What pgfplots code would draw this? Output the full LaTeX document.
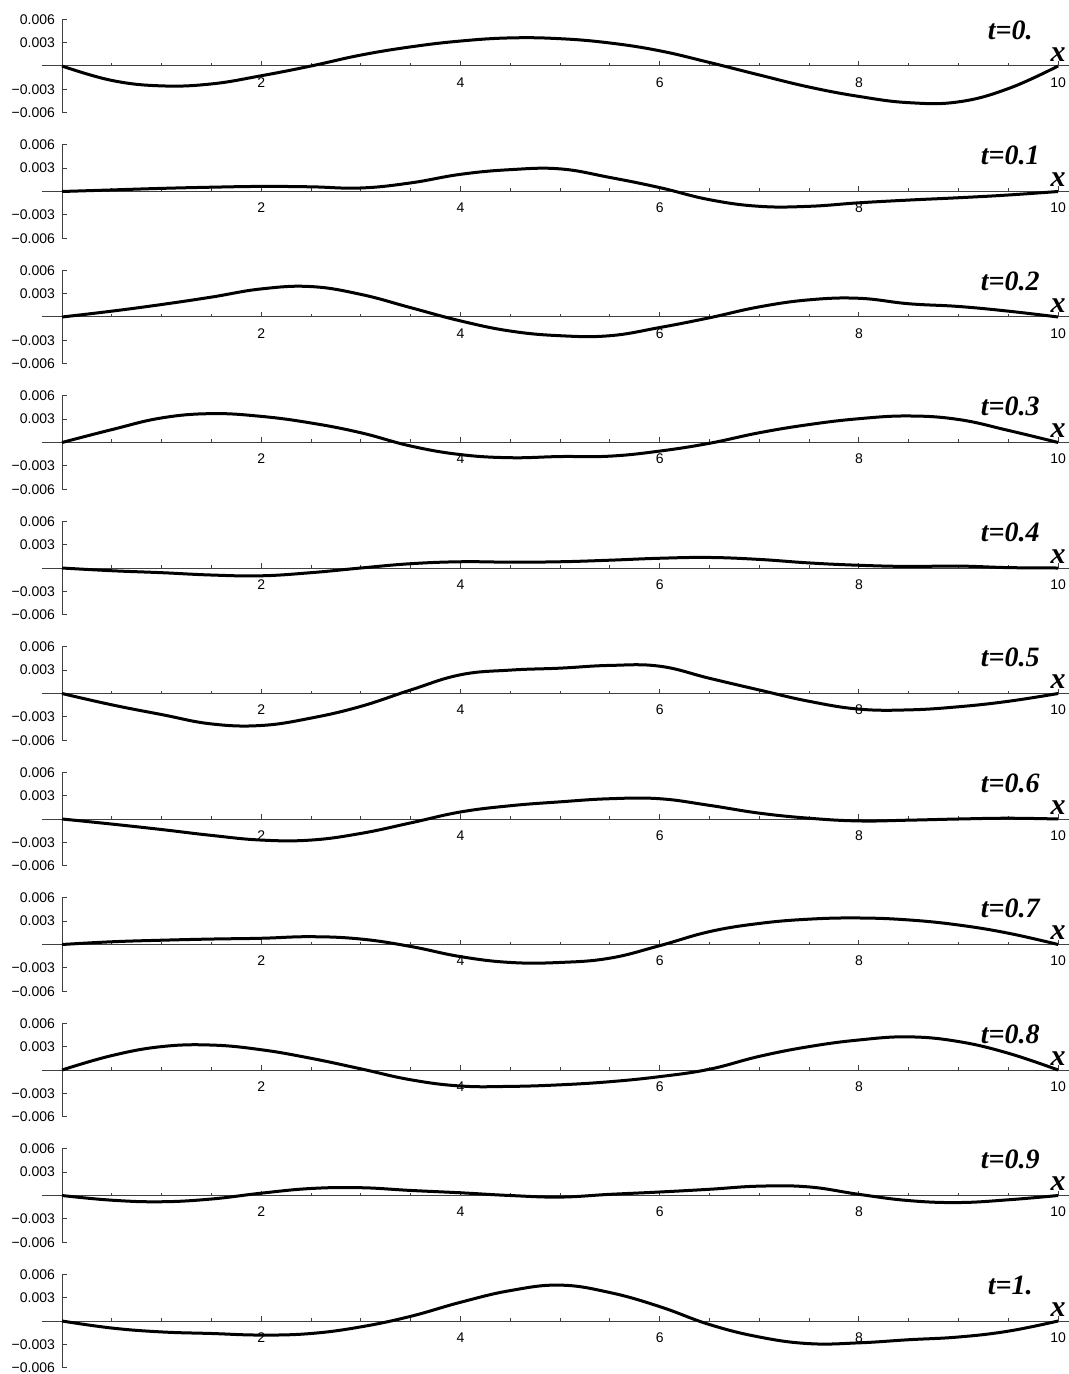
\documentclass[border=0pt]{standalone}
\usepackage{fontspec}
\setmainfont{Liberation Sans}
\newfontfamily\tfont{Liberation Serif}
\usepackage{pgfplots}
\pgfplotsset{compat=1.18}

\pgfplotsset{
  panel/.style={
    scale only axis, width=513.5pt, height=46.8pt,
    anchor=origin, at={(0pt,-#1*62.75pt)},
    xmin=-0.2, xmax=10.11, ymin=-0.006, ymax=0.006,
    axis lines=middle, axis line style={-, black!75, line width=0.5pt},
    xtick={2,4,6,8,10}, xticklabels={2,4,6,8,10},
    minor xtick={0.5,1,1.5,2.5,3,3.5,4.5,5,5.5,6.5,7,7.5,8.5,9,9.5},
    ytick={-0.006,-0.003,0.003,0.006},
    yticklabels={−0.006,−0.003,0.003,0.006},
    scaled y ticks=false,
    tick align=inside,
    major tick length=2.5pt, minor tick length=1.5pt,
    tick style={black!75, line width=0.5pt},
    tick label style={font=\fontsize{7}{8}\selectfont},
    xticklabel style={yshift=-2.2pt},
    clip=false,
  },
  curve/.style={black, line width=1.5pt, smooth, tension=0.7, mark=none},
}
\newcommand{\tlab}[1]{\node[font=\tfont\bfseries\itshape\fontsize{14}{16}\selectfont] at (axis cs:9.52,0.0046) {#1};
  \node[font=\tfont\bfseries\itshape\fontsize{15}{17}\selectfont, anchor=base] at (axis cs:10,0.0006) {x};}

\begin{document}
\begin{tikzpicture}
\begin{axis}[panel=0]
\addplot[curve] coordinates {(0,0) (0.5,-0.00185) (1,-0.00255) (1.5,-0.0023) (2,-0.00125) (2.5,0) (3,0.0014) (3.5,0.00245) (4,0.0032) (4.5,0.0036) (5,0.0035) (5.5,0.00295) (6,0.00195) (6.5,0.00045) (7,-0.00115) (7.5,-0.0027) (8,-0.0039) (8.5,-0.0047) (9,-0.0046) (9.5,-0.0029) (10,0)};
\tlab{t=0.}
\end{axis}
\begin{axis}[panel=1]
\addplot[curve] coordinates {(0,0) (0.5,0.0002) (1,0.0004) (1.5,0.00055) (2,0.00065) (2.5,0.0006) (3,0.00045) (3.5,0.0011) (4,0.0022) (4.5,0.0028) (5,0.0029) (5.5,0.0018) (6,0.0005) (6.5,-0.00105) (7,-0.0019) (7.5,-0.0019) (8,-0.00145) (8.5,-0.0011) (9,-0.0008) (9.5,-0.00045) (10,0)};
\tlab{t=0.1}
\end{axis}
\begin{axis}[panel=2]
\addplot[curve] coordinates {(0,0) (0.5,0.00075) (1,0.0016) (1.5,0.00255) (2,0.0036) (2.5,0.0039) (3,0.0029) (3.5,0.0012) (4,-0.0005) (4.5,-0.0018) (5,-0.0024) (5.5,-0.0024) (6,-0.00135) (6.5,-0.0001) (7,0.0013) (7.5,0.0022) (8,0.0024) (8.5,0.0017) (9,0.00135) (9.5,0.00075) (10,0)};
\tlab{t=0.2}
\end{axis}
\begin{axis}[panel=3]
\addplot[curve] coordinates {(0,0) (0.5,0.00165) (1,0.00315) (1.5,0.0037) (2,0.00335) (2.5,0.0025) (3,0.00125) (3.5,-0.00045) (4,-0.00155) (4.5,-0.00195) (5,-0.0018) (5.5,-0.00175) (6,-0.0011) (6.5,-0.0001) (7,0.00125) (7.5,0.0023) (8,0.00305) (8.5,0.0034) (9,0.00295) (9.5,0.00155) (10,0)};
\tlab{t=0.3}
\end{axis}
\begin{axis}[panel=4]
\addplot[curve] coordinates {(0,0) (0.5,-0.00035) (1,-0.0006) (1.5,-0.0009) (2,-0.001) (2.5,-0.0006) (3,0) (3.5,0.00055) (4,0.0008) (4.5,0.00075) (5,0.0008) (5.5,0.001) (6,0.00125) (6.5,0.00135) (7,0.0011) (7.5,0.00065) (8,0.00035) (8.5,0.0002) (9,0.00025) (9.5,0.00005) (10,0)};
\tlab{t=0.4}
\end{axis}
\begin{axis}[panel=5]
\addplot[curve] coordinates {(0,0) (0.5,-0.00145) (1,-0.0027) (1.5,-0.0039) (2,-0.0041) (2.5,-0.00315) (3,-0.00165) (3.5,0.00045) (4,0.0024) (4.5,0.003) (5,0.00325) (5.5,0.0036) (6,0.0035) (6.5,0.00195) (7,0.00045) (7.5,-0.001) (8,-0.002) (8.5,-0.0021) (9,-0.0017) (9.5,-0.001) (10,0)};
\tlab{t=0.5}
\end{axis}
\begin{axis}[panel=6]
\addplot[curve] coordinates {(0,0) (0.5,-0.00065) (1,-0.00135) (1.5,-0.0021) (2,-0.0027) (2.5,-0.0027) (3,-0.00185) (3.5,-0.0005) (4,0.0009) (4.5,0.0017) (5,0.0022) (5.5,0.0026) (6,0.0026) (6.5,0.00175) (7,0.00075) (7.5,0.0001) (8,-0.00025) (8.5,-0.00015) (9,0) (9.5,0.0001) (10,0)};
\tlab{t=0.6}
\end{axis}
\begin{axis}[panel=7]
\addplot[curve] coordinates {(0,0) (0.5,0.00035) (1,0.00055) (1.5,0.0007) (2,0.0008) (2.5,0.001) (3,0.0007) (3.5,-0.00025) (4,-0.00155) (4.5,-0.0023) (5,-0.0023) (5.5,-0.00175) (6,-0.00015) (6.5,0.00165) (7,0.0027) (7.5,0.00325) (8,0.0034) (8.5,0.00315) (9,0.0025) (9.5,0.00145) (10,0)};
\tlab{t=0.7}
\end{axis}
\begin{axis}[panel=8]
\addplot[curve] coordinates {(0,0) (0.5,0.00185) (1,0.003) (1.5,0.0032) (2,0.0026) (2.5,0.0015) (3,0.00015) (3.5,-0.00125) (4,-0.00205) (4.5,-0.0021) (5,-0.0019) (5.5,-0.0015) (6,-0.00085) (6.5,0.0001) (7,0.00175) (7.5,0.003) (8,0.00385) (8.5,0.00425) (9,0.00365) (9.5,0.00215) (10,0)};
\tlab{t=0.8}
\end{axis}
\begin{axis}[panel=9]
\addplot[curve] coordinates {(0,0) (0.5,-0.0006) (1,-0.0008) (1.5,-0.00045) (2,0.0003) (2.5,0.0009) (3,0.001) (3.5,0.00065) (4,0.00035) (4.5,0) (5,-0.0002) (5.5,0.00015) (6,0.00045) (6.5,0.0008) (7,0.0012) (7.5,0.0011) (8,0.00015) (8.5,-0.00065) (9,-0.0009) (9.5,-0.00055) (10,0)};
\tlab{t=0.9}
\end{axis}
\begin{axis}[panel=10]
\addplot[curve] coordinates {(0,0) (0.5,-0.0009) (1,-0.0014) (1.5,-0.0016) (2,-0.0018) (2.5,-0.0016) (3,-0.00075) (3.5,0.0006) (4,0.0024) (4.5,0.0039) (5,0.0046) (5.5,0.00365) (6,0.00185) (6.5,-0.00045) (7,-0.00205) (7.5,-0.0029) (8,-0.0028) (8.5,-0.0024) (9,-0.00205) (9.5,-0.0013) (10,0)};
\tlab{t=1.}
\end{axis}
\pgfresetboundingbox
\path[use as bounding box] (-31pt,33pt) rectangle (503.5pt,-654pt);
\end{tikzpicture}
\end{document}
